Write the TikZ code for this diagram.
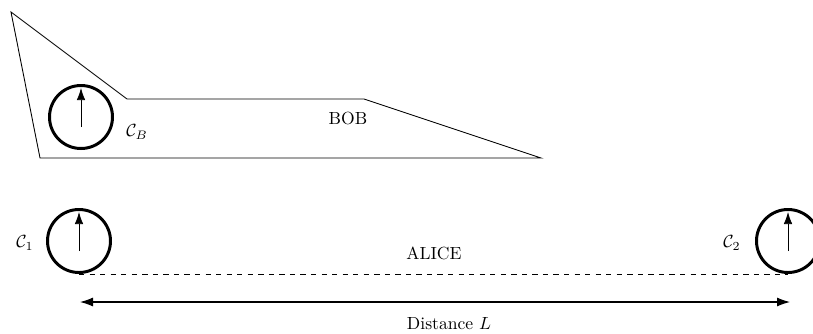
\documentclass[tikz,border=0pt]{standalone}
\usepackage{amsmath,amssymb}
\usetikzlibrary{arrows.meta}

\tikzset{clock/.style={draw, circle, line width=1.7pt, inner sep=0pt, minimum size=1.26cm},
hand/.style={-{Latex[length=0.24cm,width=0.17cm]}},
lbl/.style={inner sep=1pt}}

\begin{document}
\begin{tikzpicture}
\useasboundingbox (0,0) rectangle (16.26,-6.66);

% Bob's ship
\draw[line width=0.5pt] (0.22,-0.24)--(2.54,-1.98)--(7.28,-1.98)--(10.82,-3.16)--(0.80,-3.16)--cycle;
\node[lbl] (bob) at (6.96,-2.36) {BOB};
\node[clock] (cB) at (1.62,-2.34) {};
\draw[hand] ([yshift=-0.2cm]cB.center)--([yshift=0.58cm]cB.center);
\node[lbl] (lB) at (2.74,-2.64) {$\mathcal{C}_B$};

% Alice's clocks
\foreach \i/\x/\lx in {1/1.58/0.50,2/15.76/14.64}
{\node[clock] (c\i) at (\x,-4.82) {};
\draw[hand] ([yshift=-0.2cm]c\i.center)--([yshift=0.58cm]c\i.center);
\node[lbl] (l\i) at (\lx,-4.86) {$\mathcal{C}_\i$};}
\draw[dashed, line width=0.5pt] (c1.south)--(c2.south);
\node[lbl] (alice) at (8.68,-5.06) {ALICE};

% distance
\coordinate (dl) at (1.60,-6.04);
\coordinate (dr) at (15.80,-6.04);
\draw[{Latex[length=0.26cm,width=0.18cm]}-{Latex[length=0.26cm,width=0.18cm]}, line width=0.6pt] (dl)--(dr);
\node[lbl] (dist) at (8.98,-6.48) {Distance $L$};

\end{tikzpicture}
\end{document}
